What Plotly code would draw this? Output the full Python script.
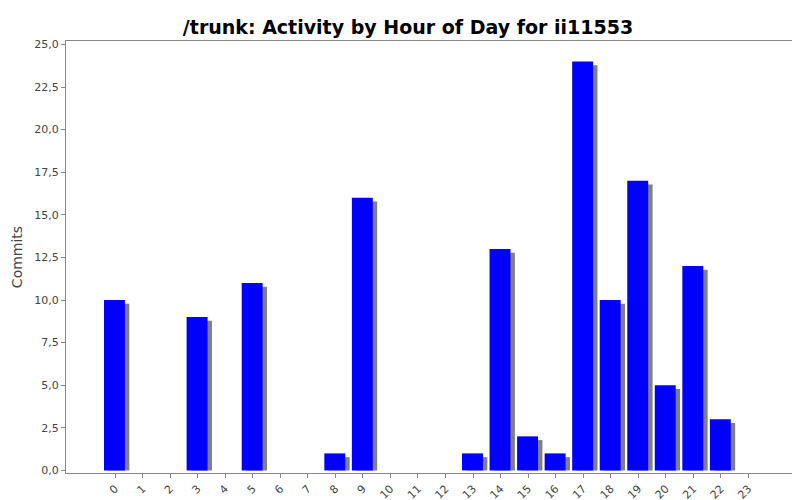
import plotly.graph_objects as go

hours = list(range(24))
commits = [10,0,0,9,0,11,0,0,1,16,0,0,0,1,13,2,1,24,10,17,5,12,3,0]

shadow = [max(v - 0.22, 0) if v > 0 else 0 for v in commits]

fig = go.Figure()
fig.add_bar(x=hours, y=shadow, width=0.76, offset=-0.24, marker_color="#808080",
            marker_line_width=0, hoverinfo="skip")
fig.add_bar(x=hours, y=commits, width=0.76, offset=-0.4, marker_color="#0000FF",
            marker_line_width=0)
fig.update_layout(
    width=800, height=500, barmode="overlay", showlegend=False,
    paper_bgcolor="white", plot_bgcolor="white", separators=",.",
    margin=dict(l=58, r=10, t=33, b=35, autoexpand=False),
    title=dict(text="<b>/trunk: Activity by Hour of Day for ii11553</b>", x=0.5, y=0.975,
               font=dict(family="DejaVu Sans", size=19, color="black")),
    font=dict(family="DejaVu Sans", size=11, color="#444"),
)
fig.update_xaxes(range=[-1.78, 24.8], tickmode="array", tickvals=hours,
                 ticktext=[str(h) for h in hours], tickangle=-45, ticks="outside",
                 ticklen=4, tickcolor="#888", showgrid=False, showline=True,
                 linecolor="#888", mirror=True, zeroline=False, automargin=False)
fig.update_yaxes(range=[-0.15, 25.2], dtick=2.5, tickformat=".1f", ticks="outside",
                 ticklen=4, tickcolor="#888", showgrid=False, showline=True,
                 linecolor="#888", mirror=True, zeroline=False, automargin=False,
                 title=dict(text="Commits", standoff=8, font=dict(size=14, color="#444")))
fig.write_html("out.html")
